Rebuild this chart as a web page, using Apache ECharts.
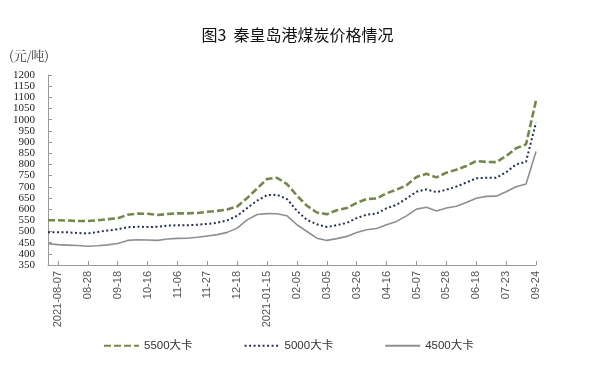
<!DOCTYPE html>
<html>
<head>
<meta charset="utf-8">
<script src="https://cdn.jsdelivr.net/npm/echarts@6/dist/echarts.min.js"></script>
<style>
html,body{margin:0;padding:0;background:#fff;}
#chart{width:595px;height:367px;}
</style>
</head>
<body>
<div id="chart"></div>
<script>
// Tick labels shown on the x axis (every third data point, starting at index 1)
const tickLabels = ['2021-08-07','08-28','09-18','10-16','11-06','11-27','12-18','2021-01-15','02-05','03-05','03-26','04-16','05-07','05-28','06-18','07-23','09-24'];

// Series values (yuan/ton), 50 data points
const s5500 = [550,550,549,547,547,550,555,559,575,580,579,574,578,581,581,583,588,592,598,612,
               650,692,735,740,712,660,615,585,577,595,605,628,645,648,671,687,707,744,758,742,
               763,776,793,815,811,810,838,872,890,1086];
const s5000 = [496,496,496,493,491,498,504,510,519,521,520,521,526,528,528,530,534,539,550,570,
               605,638,663,664,645,592,552,532,520,528,538,560,575,580,604,619,648,678,688,676,
               687,701,719,738,740,740,765,800,812,988];
const s4500 = [445,441,439,437,434,436,440,446,460,463,462,460,466,469,470,474,480,486,496,515,
               552,576,580,579,570,530,500,470,460,468,478,495,508,513,530,545,570,600,608,592,
               605,613,630,649,657,658,678,700,712,858];

const seriesNames = ['5500大卡','5000大卡','4500大卡'];
const yTitle = '(元/吨)';
const chartTitle = '图3  秦皇岛港煤炭价格情况';

// category list: labelled every third point
const categories = s5500.map(function(_, i){
  return ((i - 1) % 3 === 0 && (i - 1) / 3 < tickLabels.length) ? tickLabels[(i - 1) / 3] : '';
});
function isTick(i){ return i >= 1 && (i - 1) % 3 === 0; }

const chart = echarts.init(document.getElementById('chart'), null, {renderer:'canvas'});
chart.setOption({
  backgroundColor:'#fff',
  animation:false,
  title:{
    text: chartTitle,
    left: 'center',
    top: 22,
    textStyle:{fontFamily:'Noto Sans CJK SC', fontSize:16, fontWeight:'normal', color:'#111'}
  },
  graphic:[{
    type:'text', left:9, top:49,
    style:{text: yTitle, font:'13px "Noto Serif CJK SC","Liberation Serif",serif', fill:'#333'}
  }],
  legend:{
    left: 98, top: 335,
    itemWidth: 35, itemHeight: 10, itemGap: 51,
    itemStyle:{color:'transparent', borderColor:'transparent', borderWidth:0},
    textStyle:{fontFamily:'"Liberation Sans", "Noto Sans CJK SC"', fontSize:11.5, color:'#333'},
    data: seriesNames
  },
  grid:{left:48, right:59, top:75, bottom:102, containLabel:false},
  xAxis:{
    type:'category',
    data: categories,
    boundaryGap:false,
    axisLine:{lineStyle:{color:'#999', width:1}},
    axisTick:{inside:true, length:4, lineStyle:{color:'#999'}, interval:function(i){return isTick(i);}},
    axisLabel:{
      rotate:90, margin:6, interval:function(i){return isTick(i);},
      fontFamily:'"Liberation Sans"', fontSize:11, color:'#555'
    },
    splitLine:{show:false}
  },
  yAxis:{
    type:'value', min:350, max:1200, interval:50,
    axisLine:{show:true, lineStyle:{color:'#999', width:1}},
    axisTick:{show:true, inside:true, length:4, lineStyle:{color:'#999'}},
    axisLabel:{fontFamily:'"Liberation Serif", "DejaVu Serif", serif', fontSize:11, color:'#222', margin:13,
      showMinLabel:true, showMaxLabel:true,
      formatter:function(v){return String(v);}},
    splitLine:{show:false}
  },
  series:[
    {name:seriesNames[0], type:'line', data:s5500, symbol:'none',
     lineStyle:{color:'#75874a', width:2.6, type:[7,3]}, itemStyle:{color:'#75874a'}},
    {name:seriesNames[1], type:'line', data:s5000, symbol:'none',
     lineStyle:{color:'#26324f', width:2, type:[2,2.5]}, itemStyle:{color:'#26324f'}},
    {name:seriesNames[2], type:'line', data:s4500, symbol:'none',
     lineStyle:{color:'#8f8f8f', width:1.6, type:'solid'}, itemStyle:{color:'#8f8f8f'}}
  ]
});
</script>
</body>
</html>
